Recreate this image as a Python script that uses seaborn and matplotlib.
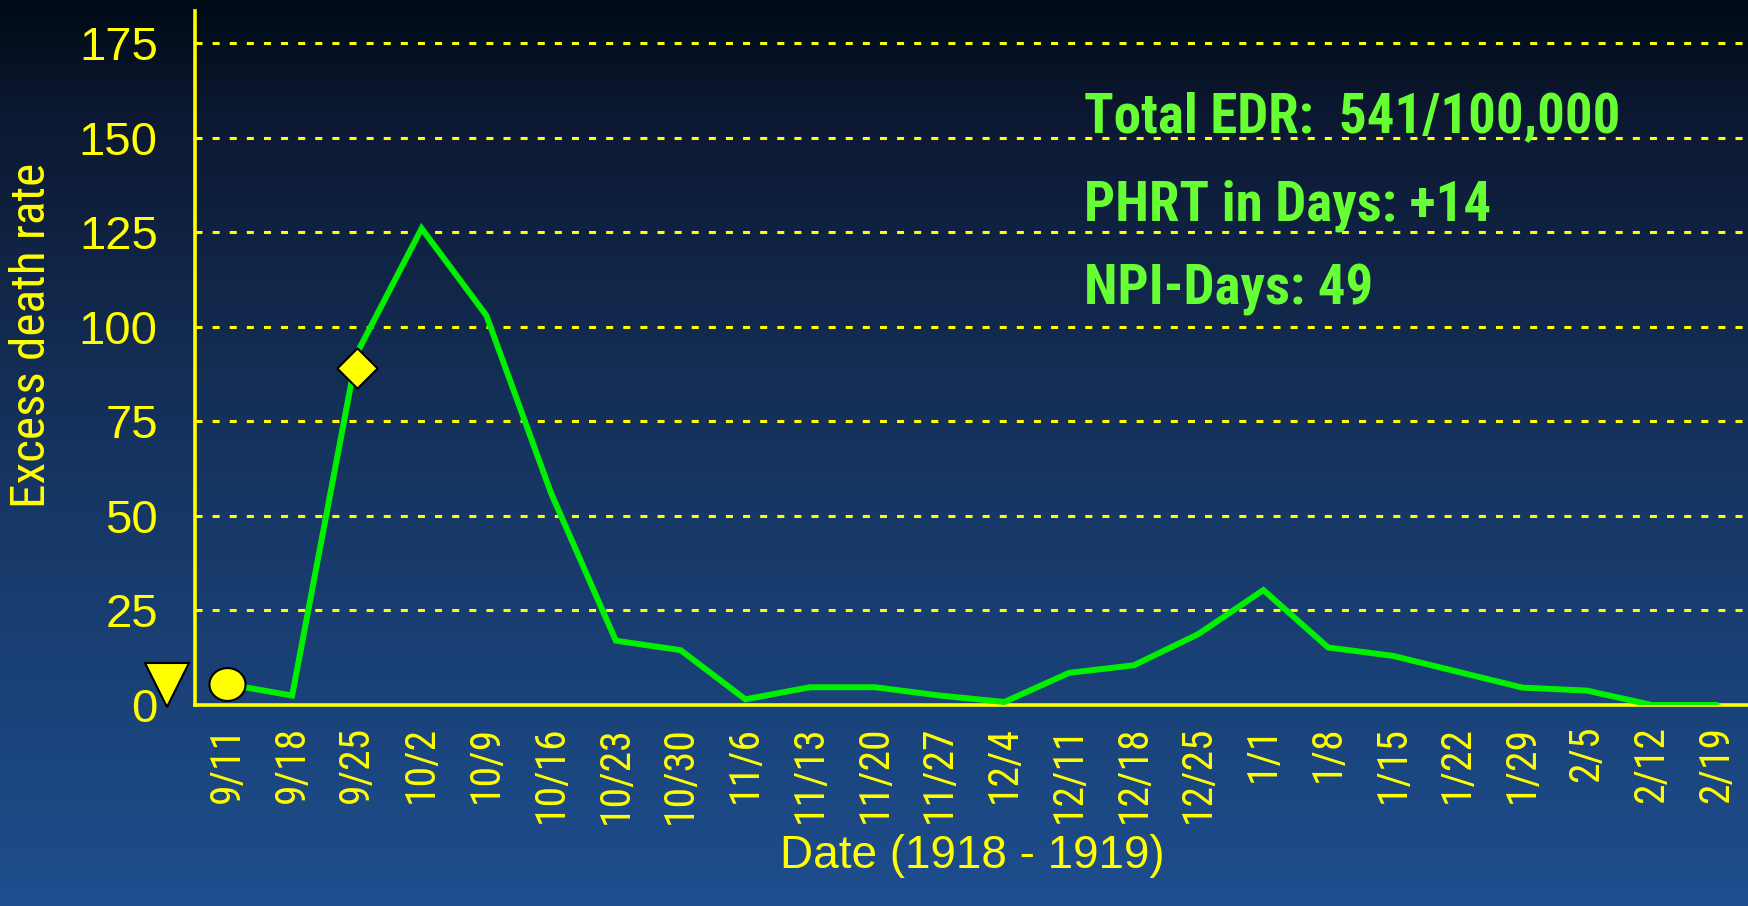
import numpy as np
import matplotlib
matplotlib.use("Agg")
import matplotlib.pyplot as plt
from matplotlib import font_manager as fm
from matplotlib.path import Path
from matplotlib.colors import LinearSegmentedColormap
import seaborn as sns

# ---- data ----
dates = ["9/11", "9/18", "9/25", "10/2", "10/9", "10/16", "10/23", "10/30",
         "11/6", "11/13", "11/20", "11/27", "12/4", "12/11", "12/18", "12/25",
         "1/1", "1/8", "1/15", "1/22", "1/29", "2/5", "2/12", "2/19"]
excess_rate = [5.5, 2.5, 93, 126, 103, 56, 17, 14.5, 1.5, 4.7, 4.7, 2.5,
               0.8, 8.5, 10.5, 18.8, 30.4, 15.2, 13.0, 8.8, 4.6, 3.8, 0, 0]
yticks = [0, 25, 50, 75, 100, 125, 150, 175]
circle_pt = (0, 5.5)       # 9/11
diamond_pt = (2, 89)       # 9/25
triangle_pt = (-0.94, 5.3)  # left of axis
notes = ["Total EDR:  541/100,000", "PHRT in Days: +14", "NPI-Days: 49"]

# ---- style ----
sns.set_style("white")
names = {f.name for f in fm.fontManager.ttflist}
base = "Liberation Sans" if "Liberation Sans" in names else "DejaVu Sans"
narrow = None
for cand in ["Roboto Condensed", "Liberation Sans Narrow", "Arial Narrow",
             "Archivo Narrow", "PT Sans Narrow"]:
    if cand in names:
        narrow = cand
        break
plt.rcParams["font.family"] = [base, "DejaVu Sans"]
nfam = [narrow, "DejaVu Sans"] if narrow else [base, "DejaVu Sans"]

YEL = "#ffff00"
GRN = "#00f000"
TXT_GRN = "#66ff33"

W, H = 1749, 906
fig = plt.figure(figsize=(W / 100, H / 100), dpi=100)

bg = fig.add_axes([0, 0, 1, 1], zorder=-10)
cmap = LinearSegmentedColormap.from_list(
    "bg", [(0.0, (0/255, 10/255, 22/255)), (0.12, (12/255, 24/255, 48/255)),
           (0.5, (22/255, 52/255, 96/255)), (1.0, (30/255, 78/255, 142/255))])
grad = np.linspace(0, 1, 512).reshape(-1, 1)
bg.imshow(grad, aspect="auto", cmap=cmap, extent=[0, 1, 0, 1], origin="upper")
bg.set_axis_off()

left, right = 195, 1749
top, bottom = 10.7, 705
ax = fig.add_axes([left / W, (H - bottom) / H, (right - left) / W, (bottom - top) / H])
ax.set_facecolor("none")

x = np.arange(len(dates))
sns.lineplot(x=x, y=excess_rate, ax=ax, color=GRN, lw=4.3, zorder=3,
             solid_capstyle="round", solid_joinstyle="miter")

t = np.linspace(0, 2 * np.pi, 60)
ellipse = Path(np.column_stack([np.cos(t), 0.91 * np.sin(t)]), closed=True)
diamond = Path([(-1, 0), (0, 1), (1, 0), (0, -1), (-1, 0)], closed=True)
ax.plot([circle_pt[0]], [circle_pt[1]], marker=ellipse, ms=26, mfc=YEL,
        mec="black", mew=1.5, ls="none", zorder=5, clip_on=False)
ax.plot([diamond_pt[0]], [diamond_pt[1]], marker=diamond, ms=29, mfc=YEL,
        mec="black", mew=1.5, ls="none", zorder=5, clip_on=False)
ax.plot([triangle_pt[0]], [triangle_pt[1]], marker="v", ms=31, mfc=YEL,
        mec="black", mew=1.5, ls="none", zorder=5, clip_on=False)

ax.set_xlim(-0.5, len(dates) - 0.5)
ax.set_ylim(0, 183.6)

for s in ["top", "right"]:
    ax.spines[s].set_visible(False)
for s in ["left", "bottom"]:
    ax.spines[s].set_color(YEL)
    ax.spines[s].set_linewidth(2.6)

ax.set_yticks(yticks)
ax.set_yticklabels([str(v) for v in yticks])
ax.tick_params(axis="y", direction="out", length=10.8, width=2.4, color=YEL,
               labelcolor=YEL, labelsize=34, pad=16)

ax.set_xticks(x)
ax.set_xticklabels(dates, rotation=90, va="top", ha="center")
ax.set_xticks(np.arange(len(dates) + 1) - 0.5, minor=True)
ax.tick_params(axis="x", which="major", length=0, labelcolor=YEL,
               labelsize=30 if narrow else 28, pad=15)
ax.tick_params(axis="x", which="minor", direction="out", length=8.6,
               width=2.4, color=YEL)
for lab in ax.get_xticklabels():
    lab.set_fontfamily(nfam)

for v in yticks[1:]:
    ax.axhline(v, color=YEL, lw=2.2, ls=(0, (2.3, 3.3)), zorder=1)

ax.set_xlabel("")
ax.set_ylabel("")

fig.text(32.5 / W, 1 - 335 / H, "Excess death rate", rotation=90, color=YEL,
         fontsize=35.5, ha="center", va="center", family=nfam)
fig.text(972 / W, 1 - 856 / H, "Date (1918 - 1919)", color=YEL, fontsize=33,
         ha="center", va="center")

note_size = 39.5 if narrow else 34.4
for s, yy in zip(notes, [117, 206, 290]):
    fig.text(1084 / W, 1 - yy / H, s, color=TXT_GRN,
             fontsize=note_size, fontweight="bold", family=nfam,
             ha="left", va="center")

fig.savefig("out.png", dpi=100)
